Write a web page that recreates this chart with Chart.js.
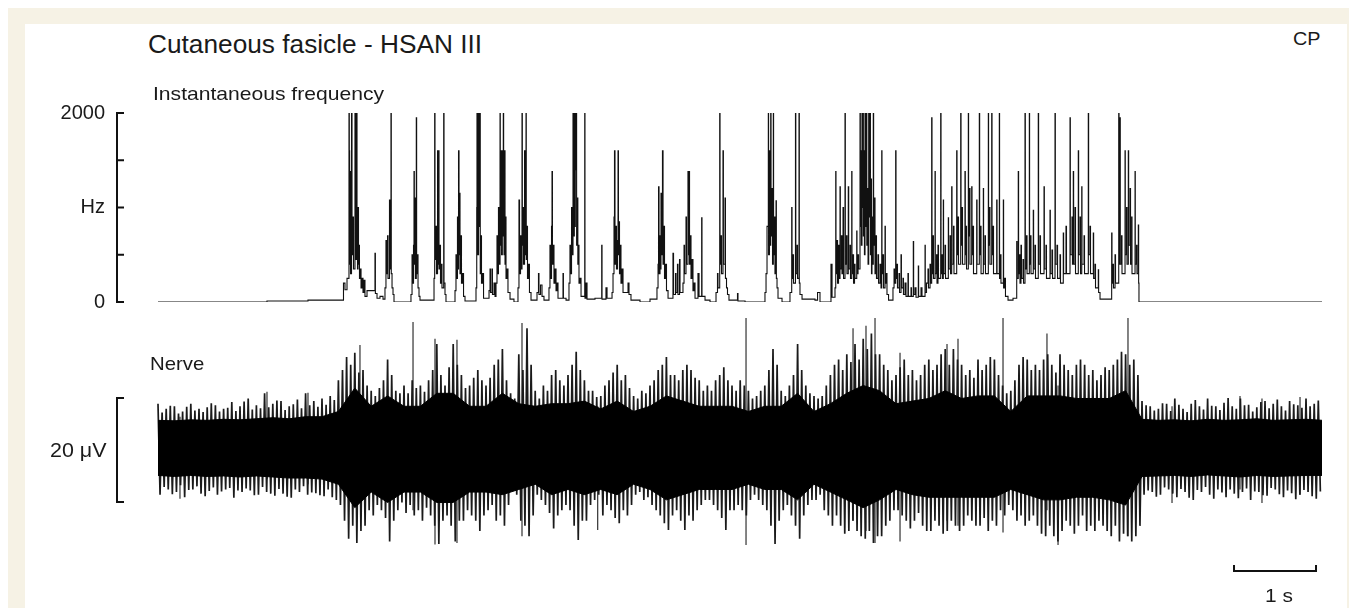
<!DOCTYPE html>
<html>
<head>
<meta charset="utf-8">
<script src="https://cdn.jsdelivr.net/npm/chart.js@4.4.1/dist/chart.umd.min.js"></script>
<style>
  html, body { margin: 0; padding: 0; background: #fff; overflow: hidden; }
  body { width: 1349px; height: 608px; position: relative; font-family: "Liberation Sans", Arial, Helvetica, sans-serif; color: #1a1a1a; }
  .frame { position: absolute; left: 8px; top: 8px; right: 0; bottom: 0; background: #f6f2e5; }
  .panel { position: absolute; left: 25px; top: 24px; right: 2px; bottom: 0; background: #fff; }
  canvas { position: absolute; left: 0; }
  .lbl { position: absolute; line-height: 1; white-space: nowrap; transform-origin: 0 0; }
</style>
</head>
<body>
<div class="frame"></div>
<div class="panel"></div>
<canvas id="freqChart" width="1349" height="237" style="top:89px"></canvas>
<canvas id="nerveChart" width="1349" height="301" style="top:307px"></canvas>

<div class="lbl" style="left:148px; top:31.7px; font-size:25px; transform:scaleX(1.05)">Cutaneous fasicle - HSAN III</div>
<div class="lbl" style="left:1293px; top:29.7px; font-size:18px; transform:scaleX(1.1)">CP</div>
<div class="lbl" style="left:153px; top:84.6px; font-size:18.5px; transform:scaleX(1.14)">Instantaneous frequency</div>
<div class="lbl" style="left:150px; top:354.6px; font-size:18.5px; transform:scaleX(1.1)">Nerve</div>
<div class="lbl" style="left:50px; top:440.5px; font-size:19.5px; transform:scaleX(1.1)">20 μV</div>
<div class="lbl" style="left:1265px; top:585.5px; font-size:19px; transform:scaleX(1.1)">1 s</div>

<script>
// time axis (s), same for both traces
const xMin = -0.5
const xMax = 14.195

// instantaneous frequency trace: spike times (s) and the frequency held after each (Hz)
const freqSec = [
  0, 1.329, 1.829,
  2.262, 2.280, 2.305, 2.329, 2.333, 2.337, 2.341, 2.348, 2.360, 2.366, 2.378, 2.384, 2.402, 2.406, 2.411, 2.415, 2.421, 2.427, 2.433, 2.439, 2.445, 2.451, 2.457, 2.463, 2.476, 2.488, 2.500, 2.512, 2.524, 2.549, 2.646, 2.651, 2.671, 2.707, 2.744,
  2.768, 2.780, 2.787, 2.799, 2.805, 2.823, 2.829, 2.841, 2.845, 2.854, 2.866, 2.878,
  3.085, 3.098, 3.104, 3.116, 3.122, 3.126, 3.134, 3.139, 3.150, 3.154, 3.165, 3.171, 3.183, 3.195,
  3.366, 3.374, 3.378, 3.390, 3.396, 3.409, 3.412, 3.421, 3.427, 3.439, 3.445, 3.457, 3.463, 3.484, 3.488, 3.500, 3.512,
  3.622, 3.634, 3.640, 3.652, 3.659, 3.665, 3.671, 3.677, 3.683, 3.695, 3.701, 3.713, 3.726, 3.744,
  3.878, 3.887, 3.890, 3.896, 3.909, 3.915, 3.927, 3.930, 3.939, 3.945, 3.957, 3.970, 4.037, 4.049, 4.055, 4.073, 4.079, 4.098, 4.110,
  4.122, 4.134, 4.140, 4.152, 4.159, 4.171, 4.174, 4.179, 4.187, 4.190, 4.199, 4.202, 4.211, 4.215, 4.220, 4.226, 4.232, 4.238, 4.244, 4.256, 4.268, 4.293, 4.341,
  4.390, 4.402, 4.409, 4.421, 4.427, 4.439, 4.443, 4.451, 4.457, 4.470, 4.476, 4.488, 4.491, 4.500, 4.506, 4.518, 4.530, 4.549, 4.622, 4.640, 4.646, 4.665, 4.683, 4.707,
  4.768, 4.780, 4.787, 4.799, 4.805, 4.810, 4.823, 4.829, 4.841, 4.854, 4.866, 4.878, 4.939, 4.944, 4.976,
  5.012, 5.024, 5.030, 5.043, 5.049, 5.061, 5.065, 5.070, 5.077, 5.082, 5.089, 5.094, 5.100, 5.105, 5.113, 5.120, 5.128, 5.134, 5.146, 5.159, 5.204, 5.207, 5.220, 5.232, 5.329, 5.411, 5.415, 5.463, 5.476,
  5.537, 5.549, 5.561, 5.567, 5.573, 5.585, 5.591, 5.604, 5.610, 5.615, 5.622, 5.628, 5.640, 5.646, 5.659, 5.671, 5.732, 5.744, 5.768, 5.878, 6.000,
  6.085, 6.098, 6.104, 6.110, 6.122, 6.128, 6.134, 6.140, 6.152, 6.159, 6.171, 6.177, 6.189, 6.201, 6.220, 6.280, 6.287, 6.311, 6.317, 6.335, 6.341, 6.360, 6.366,
  6.402, 6.415, 6.421, 6.439, 6.445, 6.463, 6.468, 6.476, 6.482, 6.494, 6.500, 6.512, 6.524, 6.537, 6.549, 6.585, 6.598, 6.630, 6.634, 6.671, 6.732,
  6.805, 6.823, 6.829, 6.850, 6.854, 6.866, 6.872, 6.890, 6.895, 6.915, 6.920, 6.933, 6.945, 6.963, 7.067, 7.073, 7.159,
  7.402, 7.415, 7.427, 7.443, 7.446, 7.457, 7.463, 7.472, 7.476, 7.488, 7.494, 7.504, 7.507, 7.518, 7.524, 7.537, 7.541, 7.549, 7.561, 7.610,
  7.707, 7.728, 7.732, 7.744, 7.750, 7.774, 7.778, 7.793, 7.799, 7.817, 7.821, 7.829, 7.854, 8.012, 8.043, 8.073,
  8.207, 8.220, 8.256, 8.265, 8.268, 8.280, 8.287, 8.299, 8.305, 8.317, 8.321, 8.335, 8.341, 8.354, 8.360, 8.378, 8.382, 8.396, 8.402, 8.418, 8.423, 8.439, 8.445, 8.460, 8.463, 8.476, 8.482, 8.494, 8.500, 8.521, 8.524, 8.537, 8.543,
  8.561, 8.565, 8.573, 8.578, 8.585, 8.589, 8.598, 8.602, 8.610, 8.615, 8.622, 8.627, 8.640, 8.644, 8.652, 8.659, 8.667, 8.671, 8.683, 8.688, 8.695, 8.701, 8.707, 8.713, 8.723, 8.727, 8.738, 8.744, 8.756, 8.762, 8.780, 8.787, 8.805, 8.817, 8.826, 8.829, 8.841, 8.848, 8.866, 8.870, 8.878, 8.890, 8.909,
  8.963, 8.976, 8.982, 8.996, 9.000, 9.012, 9.018, 9.037, 9.043, 9.061, 9.066, 9.085, 9.091, 9.110, 9.122, 9.146, 9.151, 9.183, 9.189, 9.211, 9.215, 9.232, 9.244, 9.272, 9.276, 9.305, 9.317, 9.354, 9.357,
  9.372, 9.390, 9.396, 9.415, 9.421, 9.435, 9.439, 9.451, 9.457, 9.476, 9.479, 9.494, 9.500, 9.512, 9.518, 9.545, 9.549, 9.561, 9.567, 9.577, 9.580, 9.598, 9.604, 9.638, 9.641, 9.659, 9.665, 9.679, 9.683, 9.701, 9.707,
  9.740, 9.744, 9.756, 9.762, 9.789, 9.793, 9.805, 9.811, 9.841, 9.845, 9.854, 9.860, 9.882, 9.885, 9.896, 9.902, 9.923, 9.927, 9.939, 9.945, 9.984, 9.988, 10.016, 10.020, 10.030, 10.037, 10.065, 10.068, 10.085, 10.091, 10.126, 10.129, 10.140, 10.146, 10.167, 10.171, 10.183, 10.189, 10.228, 10.232, 10.260, 10.263, 10.274, 10.280, 10.309, 10.312, 10.323, 10.335, 10.366, 10.427,
  10.472, 10.476, 10.491, 10.495, 10.506, 10.512, 10.524, 10.530, 10.549, 10.555, 10.573, 10.577, 10.591, 10.598, 10.626, 10.629, 10.640, 10.646, 10.674, 10.678, 10.695, 10.701, 10.735, 10.739, 10.756, 10.762, 10.805, 10.809, 10.829, 10.835, 10.878, 10.882, 10.902, 10.909, 10.939, 10.943, 10.963, 10.970,
  11.000, 11.006, 11.040, 11.044, 11.073, 11.079, 11.122, 11.126, 11.146, 11.152, 11.162, 11.166, 11.183, 11.189, 11.223, 11.227, 11.244, 11.250, 11.265, 11.268, 11.293, 11.299, 11.345, 11.349, 11.366, 11.372, 11.406, 11.410, 11.427, 11.433, 11.467, 11.471, 11.488,
  11.630, 11.634, 11.646, 11.652, 11.671, 11.677, 11.716, 11.720, 11.732, 11.735, 11.750, 11.756, 11.793, 11.796, 11.811, 11.817, 11.833, 11.837, 11.854, 11.860, 11.874, 11.878, 11.915, 11.918, 11.933, 11.939, 11.955, 11.959, 11.963, 14.195
]
const freqHz = [
  0, 10, 20,
  200, 130, 250, 2000, 1600, 400, 1380, 300, 2000, 500, 900, 350, 2000, 1380, 2000, 450, 2000, 800, 350, 1000, 400, 600, 250, 350, 150, 250, 100, 230, 60, 120, 515, 90, 40, 60, 30,
  150, 650, 300, 700, 250, 1080, 350, 2000, 300, 150, 80, 0,
  80, 500, 200, 600, 1380, 400, 1100, 250, 1950, 300, 500, 150, 60, 20,
  250, 2000, 450, 800, 300, 1600, 400, 1600, 350, 600, 200, 400, 150, 2000, 200, 80, 0,
  120, 500, 250, 900, 350, 1600, 500, 1150, 300, 700, 200, 300, 60, 10,
  150, 1000, 2000, 500, 2000, 800, 2000, 300, 700, 200, 300, 40, 120, 350, 100, 350, 80, 200, 60,
  200, 700, 300, 1000, 400, 2000, 1600, 600, 1600, 500, 1600, 700, 2000, 1600, 500, 1600, 400, 900, 250, 350, 100, 30, 0,
  150, 1080, 300, 700, 350, 2000, 600, 1000, 400, 1600, 500, 2000, 450, 800, 250, 400, 100, 20, 100, 300, 80, 180, 60, 20,
  150, 600, 250, 800, 1380, 400, 600, 200, 350, 120, 200, 40, 300, 40, 20,
  200, 600, 300, 1000, 500, 2000, 1600, 700, 2000, 800, 2000, 1400, 2000, 600, 1100, 400, 600, 200, 250, 60, 2000, 40, 200, 30, 40, 600, 30, 150, 40,
  100, 300, 900, 1600, 400, 800, 350, 650, 1600, 500, 850, 300, 600, 200, 350, 100, 200, 80, 20, 0, 30,
  150, 400, 1220, 300, 700, 350, 1150, 500, 1600, 400, 800, 250, 400, 120, 40, 515, 80, 300, 100, 400, 80, 450, 100,
  200, 600, 300, 900, 400, 1380, 500, 1380, 400, 700, 250, 450, 120, 200, 40, 300, 60, 890, 60, 20, 0,
  100, 300, 150, 2000, 400, 700, 300, 1600, 400, 1100, 250, 150, 80, 20, 90, 10, 0,
  100, 300, 800, 2000, 500, 1600, 600, 2000, 700, 1200, 400, 2000, 500, 900, 300, 1070, 250, 150, 40, 0,
  100, 1000, 250, 500, 200, 2000, 300, 600, 250, 2000, 200, 80, 30, 20, 100, 0,
  400, 50, 150, 1380, 300, 650, 200, 600, 250, 1220, 350, 700, 300, 1000, 250, 2000, 400, 700, 300, 1220, 350, 600, 250, 1380, 300, 500, 200, 400, 250, 750, 300, 500, 350,
  2000, 800, 1600, 600, 2000, 1000, 2000, 700, 1600, 500, 2000, 800, 2000, 600, 1200, 400, 2000, 900, 2000, 500, 1300, 300, 900, 400, 2000, 600, 1100, 300, 700, 250, 500, 200, 400, 150, 1600, 300, 500, 150, 800, 200, 300, 80, 20,
  150, 350, 200, 1600, 250, 400, 150, 300, 100, 500, 150, 250, 80, 200, 60, 300, 60, 150, 60, 640, 80, 150, 50, 380, 60, 150, 60, 600, 100,
  200, 350, 150, 400, 200, 1950, 300, 700, 250, 1380, 300, 500, 200, 600, 250, 2000, 300, 500, 250, 1080, 300, 600, 250, 890, 350, 700, 300, 1220, 400, 800, 300,
  1600, 500, 900, 400, 2000, 600, 1000, 400, 1380, 500, 800, 350, 2000, 700, 1200, 400, 1220, 500, 800, 300, 1080, 400, 2000, 500, 800, 300, 1200, 400, 700, 300, 2000, 600, 1000, 400, 2000, 500, 800, 300, 1080, 300, 2000, 250, 500, 200, 1080, 150, 250, 60, 20, 40,
  640, 250, 1380, 300, 500, 200, 600, 250, 450, 200, 2000, 350, 700, 300, 2000, 400, 700, 300, 970, 350, 600, 250, 2000, 400, 700, 300, 1220, 350, 600, 250, 970, 300, 550, 250, 2000, 400, 600, 250,
  500, 200, 730, 300, 800, 300, 1950, 500, 900, 400, 1380, 400, 1000, 300, 1600, 500, 900, 300, 1220, 400, 700, 300, 2000, 500, 800, 300, 730, 250, 400, 150, 340, 100, 30,
  730, 200, 400, 150, 500, 200, 2000, 400, 1950, 400, 700, 300, 1600, 500, 1000, 400, 1600, 600, 1200, 400, 900, 300, 1380, 400, 600, 300, 815, 200, 0, 0
]
const freqTicks = [0, 500, 1000, 1500, 2000]
const freqTickText = { 0: '0', 1000: 'Hz', 2000: '2000' }

// nerve recording, one bin every 0.05 s: highest and lowest excursion (µV)
const nerveBinSec = 0.05
const nerveTop = [
  8.5, 6.8, 7.5, 8.1, 8, 6.6, 7, 7.9, 8.5, 7.2, 7.5, 6.9, 7.8, 8.6, 8.2, 7, 7.5, 7.7, 8.8, 7.1,
  8, 8.9, 9.5, 7.4, 8.2, 7.6, 10.5, 7.8, 8.5, 9.1, 9, 7.3, 8, 8.4, 9.3, 7.6, 10.5, 8.2, 9, 7.9,
  9.5, 8.3, 10, 9.2, 13, 15, 17.5, 16, 18.3, 14.5, 15, 12, 11, 10, 11.5, 13, 17, 14, 11, 10.5,
  12, 10.5, 13, 11.5, 12, 10.8, 13, 15, 20, 14, 12, 15.5, 20, 16, 14, 11.5, 12, 13.5, 15, 13,
  12, 13.5, 16, 17, 19, 13, 10.5, 9.5, 18, 15, 23, 16, 11, 9.5, 12, 11, 14, 15, 13, 12,
  14, 16, 18.5, 15, 13, 11, 11, 9.8, 10, 12, 13, 14.5, 16, 13, 14, 11.5, 10, 9.5, 11, 10.5,
  12, 13, 15, 16, 17.5, 14, 14, 13, 15, 16, 15, 13.5, 13, 11, 12, 11, 13, 14, 15.5, 13,
  12, 11, 13, 12, 11, 9.5, 10, 11, 12, 15, 19, 16, 11, 10, 12, 14, 20, 15, 12, 10.5,
  10, 9.5, 10, 12, 14, 16, 17, 15, 18, 16.5, 20, 17, 21, 19, 22, 18, 18, 16, 15, 13,
  14, 15.5, 17, 14, 15, 13, 14, 16, 17, 15, 16, 18, 19, 16, 19, 17, 16, 14, 15, 13.5,
  17, 15, 16, 17.5, 17, 14, 12, 10.5, 11, 13, 16, 17.5, 17, 15, 16, 15, 17, 18, 16, 14.5,
  18, 16, 15, 14, 16, 17, 16, 14, 15, 13, 14, 15.5, 15, 16, 17, 18.5, 18, 16, 17, 14,
  9, 8.2, 8, 7.2, 7.5, 8.6, 8.5, 7.1, 9.5, 8.3, 7.5, 6.9, 8.5, 9.2, 8, 7.4, 9.5, 8.1, 8, 7.3,
  8.7, 9.6, 8, 7.5, 9.5, 8.2, 8.3, 7, 7.8, 8.8, 9, 7.6, 8.5, 9.3, 8, 7.2, 9, 8.4, 8.2, 7.7,
  9.5, 8, 8.5, 9.1
]
const nerveBottom = [
  -9, -7.5, -8, -8.9, -8.5, -7.2, -9.5, -8.1, -8, -7.4, -8.8, -9.3, -8.3, -7.6, -9, -8.4, -8, -7.7, -9.6, -8.2,
  -8.5, -7.8, -8.2, -9.1, -9, -7.5, -8.5, -8.8, -9.2, -7.9, -8.8, -9.4, -9.6, -8, -8.5, -7.4, -9, -8.6, -8.7, -9.1,
  -9.3, -8, -9.5, -10, -11, -14, -17.5, -15, -18.3, -16, -15, -12, -13, -11, -12, -13.5, -18, -14, -12, -10.5,
  -12.5, -11, -13, -12, -14, -11.5, -13, -15, -18.5, -14, -13, -15, -18, -14, -14, -12, -13, -14, -16, -13,
  -12, -11, -14, -13, -15, -11, -8, -9, -14, -15, -17, -13, -9, -10, -11, -12.5, -15.5, -13, -12, -11,
  -12, -15, -17.7, -14, -14, -11, -10, -9, -13, -11, -12, -13.5, -14.5, -12, -13, -11, -9, -8.5, -10, -9.5,
  -11, -12, -13, -14.5, -15.8, -13, -12, -14, -15.8, -13, -14, -12, -11, -10, -10, -11, -12, -13.5, -15.8, -12,
  -12, -11, -12, -13, -10, -9, -10, -11, -12, -15, -18.5, -14, -12, -11, -13, -15, -17.5, -13, -11, -10,
  -10, -9, -12, -13, -15, -13, -15, -16.5, -16, -14, -16, -17, -17.5, -16, -18.3, -17, -17, -15, -14, -12,
  -12, -13, -14, -15.5, -14, -12.5, -15, -16, -16, -14, -15, -16.5, -16, -14, -15, -16, -15, -13, -14, -15,
  -15, -13.5, -16, -14, -15, -12, -13, -11, -12, -14, -13, -15, -14, -13, -15, -16.5, -17, -15, -17, -18,
  -16, -14, -15, -16.5, -15, -13, -16, -15, -16, -14, -15, -16, -17, -15, -18, -16.5, -17, -18, -17, -15,
  -9, -8.2, -8.5, -9.4, -9, -7.6, -8, -8.8, -9.5, -7.9, -8.5, -9.6, -10, -8.1, -8.5, -7.5, -9, -9.8, -8, -8.6,
  -9.5, -8, -8.8, -9.7, -8.5, -7.8, -10, -8.4, -8.5, -9.1, -9.2, -7.7, -8, -8.9, -9.5, -8.2, -8.7, -9.9, -9, -8.1,
  -8.5, -9.3, -9.8, -8.4
]
// dense black core of the nerve trace, every 0.2 s (µV)
const coreBinSec = 0.2
const coreTop = [
  5.3, 5.2, 5.4, 5.3, 5.5, 5.4, 5.6, 5.8, 5.6, 6,
  6, 7, 11.5, 8, 10, 8, 8, 10.5, 10.5, 8,
  8, 10.5, 8.5, 8, 8.5, 8.5, 9, 7.5, 9, 7,
  8, 10, 9, 8, 8, 8, 7, 8, 8, 10.5,
  7, 8.5, 10.5, 12, 11, 8.5, 9, 9.5, 11, 9.5,
  10, 10, 7, 10, 10, 10, 9.5, 9.5, 9.5, 11,
  5.5, 5.3, 5.4, 5.2, 5.5, 5.3, 5.4, 5.6, 5.3, 5.4,
  5.5, 5.3
]
const coreBottom = [
  -5.3, -5.5, -5.3, -5.5, -5.4, -5.6, -5.4, -5.6, -5.8, -5.8,
  -6, -7, -11.5, -8.5, -10.5, -8.5, -8.5, -10.5, -10.5, -8.5,
  -8.5, -9, -8, -7, -9, -8, -9, -8, -9, -7,
  -8, -10, -9, -8, -8, -8, -7, -8, -8, -10,
  -7, -8.5, -10, -11.5, -10, -8, -9, -9.5, -9.5, -9.5,
  -9.5, -9.5, -8, -9, -10, -10, -9.5, -9.5, -10, -11,
  -5.5, -5.4, -5.3, -5.5, -5.2, -5.4, -5.6, -5.3, -5.5, -5.4,
  -5.3, -5.3
]
// single large nerve spikes: time (s), peak and trough (µV)
const spikeSec = [0.268, 1.329, 1.829, 2.463, 3.110, 3.378, 3.646, 4.439, 5.362, 7.171, 8.476, 8.634, 8.744, 9.049, 9.622, 9.756, 10.305, 10.841, 10.976, 11.829, 12.366, 13.195, 13.463, 13.927]
const spikeTop = [6, 10.8, 10.6, 19.8, 24.2, 21, 20.8, 24, 8, 25, 23, 23.5, 25, 18.3, 20, 21, 25, 22, 12, 25, 8, 10, 9.5, 9.8]
const spikeBottom = [-9.8, -6, -7, -10, -12, -18.6, -18.3, -17, -15.8, -18.7, -14, -16, -18.3, -18, -14, -15, -16.3, -12, -18.7, -17, -10.6, -8, -10.6, -9]

// calibration marks
const bracketSec = -0.5
const bracketLowUv = -10.4
const bracketHighUv = 9.6
const scaleBarStartSec = 13.122
const scaleBarUv = -23.7
const nerveMin = -30.8
const nerveMax = 27.1

const fontFamily = '"Liberation Sans", Arial, Helvetica, sans-serif'

if (freqSec.length !== freqHz.length) console.error('freq arrays differ', freqSec.length, freqHz.length)
if (nerveTop.length !== nerveBottom.length) console.error('nerve arrays differ', nerveTop.length, nerveBottom.length)

const freqPoints = freqSec.map((t, i) => ({ x: t, y: freqHz[i] }))

// ticks of the frequency axis point into the plot
const freqAxisTicks = {
  id: 'freqAxisTicks',
  afterDraw(chart) {
    const { ctx, chartArea, scales: { y } } = chart
    ctx.save()
    ctx.strokeStyle = '#111'
    ctx.lineWidth = 2
    freqTicks.forEach(v => {
      const py = y.getPixelForValue(v)
      ctx.beginPath()
      ctx.moveTo(chartArea.left, py)
      ctx.lineTo(chartArea.left + 7, py)
      ctx.stroke()
    })
    ctx.restore()
  }
}

new Chart(document.getElementById('freqChart'), {
  type: 'line',
  data: {
    datasets: [{
      data: freqPoints,
      stepped: true,
      borderColor: '#111',
      borderWidth: 1.1,
      pointRadius: 0,
      fill: false
    }]
  },
  options: {
    responsive: false,
    animation: false,
    events: [],
    layout: { padding: { left: 0, right: 27, top: 20, bottom: 20 } },
    plugins: { legend: { display: false }, tooltip: { enabled: false } },
    scales: {
      x: { type: 'linear', display: false, min: xMin, max: xMax },
      y: {
        min: 0,
        max: 2000,
        afterFit(scale) { scale.width = 117 },
        afterBuildTicks(scale) { scale.ticks = freqTicks.map(v => ({ value: v })) },
        ticks: {
          autoSkip: false,
          padding: 12,
          color: '#1a1a1a',
          font: { family: fontFamily, size: 20 },
          callback: v => freqTickText[v] ?? ''
        },
        grid: { display: false, drawTicks: false },
        border: { display: true, color: '#111', width: 2 }
      }
    }
  },
  plugins: [freqAxisTicks]
})

// nerve: black core band, zigzag excursions, single spikes
const coreTopPts = coreTop.map((v, i) => ({ x: i * coreBinSec, y: v }))
const coreBottomPts = coreBottom.map((v, i) => ({ x: i * coreBinSec, y: v }))
const zigzag = []
nerveTop.forEach((v, i) => {
  zigzag.push({ x: i * nerveBinSec, y: v })
  zigzag.push({ x: i * nerveBinSec + nerveBinSec / 2, y: nerveBottom[i] })
})
const spikePts = []
spikeSec.forEach((t, i) => {
  spikePts.push({ x: t, y: spikeBottom[i] })
  spikePts.push({ x: t, y: spikeTop[i] })
  spikePts.push({ x: t, y: null })
})

const nerveMarks = {
  id: 'nerveMarks',
  afterDraw(chart) {
    const { ctx, scales: { x, y } } = chart
    ctx.save()
    ctx.strokeStyle = '#111'
    ctx.lineWidth = 2
    // 20 µV bracket
    const bx = x.getPixelForValue(bracketSec)
    const y1 = y.getPixelForValue(bracketHighUv)
    const y2 = y.getPixelForValue(bracketLowUv)
    ctx.beginPath()
    ctx.moveTo(bx + 7, y1)
    ctx.lineTo(bx, y1)
    ctx.lineTo(bx, y2)
    ctx.lineTo(bx + 7, y2)
    ctx.stroke()
    // 1 s bar
    const sx1 = x.getPixelForValue(scaleBarStartSec)
    const sx2 = x.getPixelForValue(scaleBarStartSec + 1)
    const sy = y.getPixelForValue(scaleBarUv)
    ctx.beginPath()
    ctx.moveTo(sx1, sy - 6)
    ctx.lineTo(sx1, sy)
    ctx.lineTo(sx2, sy)
    ctx.lineTo(sx2, sy - 6)
    ctx.stroke()
    ctx.restore()
  }
}

new Chart(document.getElementById('nerveChart'), {
  type: 'line',
  data: {
    datasets: [
      { data: coreTopPts, fill: '+1', backgroundColor: '#000', borderColor: '#000', borderWidth: 1, pointRadius: 0 },
      { data: coreBottomPts, fill: false, borderColor: '#000', borderWidth: 1, pointRadius: 0 },
      { data: zigzag, fill: false, borderColor: '#1a1a1a', borderWidth: 1.7, pointRadius: 0 },
      { data: spikePts, fill: false, borderColor: '#333', borderWidth: 1.2, pointRadius: 0, spanGaps: false }
    ]
  },
  options: {
    responsive: false,
    animation: false,
    events: [],
    layout: { padding: { left: 117, right: 27, top: 0, bottom: 0 } },
    plugins: { legend: { display: false }, tooltip: { enabled: false } },
    scales: {
      x: { type: 'linear', display: false, min: xMin, max: xMax },
      y: { display: false, min: nerveMin, max: nerveMax }
    }
  },
  plugins: [nerveMarks]
})
</script>
</body>
</html>
